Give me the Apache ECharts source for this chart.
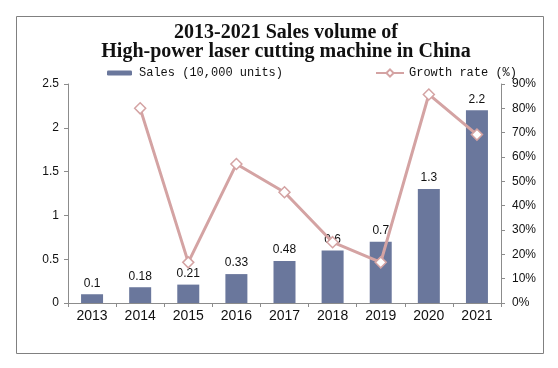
<!DOCTYPE html>
<html><head><meta charset="utf-8">
<script src="https://cdn.jsdelivr.net/npm/echarts@6/dist/echarts.min.js"></script>
<style>html,body{margin:0;padding:0;background:#fff}#c{width:558px;height:368px}</style>
</head><body><div id="c"></div>
<script>
const years = ['2013','2014','2015','2016','2017','2018','2019','2020','2021'];
const sales = [0.1, 0.18, 0.21, 0.33, 0.48, 0.6, 0.7, 1.3, 2.2];
const growth = [null, 80, 16.7, 57.1, 45.5, 25, 16.7, 85.7, 69.2];
const leftTicks = [0, 0.5, 1, 1.5, 2, 2.5];
const rightTicks = [0, 10, 20, 30, 40, 50, 60, 70, 80, 90];

const chart = echarts.init(document.getElementById('c'), null, {renderer: 'canvas'});
const axisCol = '#8c8c8c';
chart.setOption({
  animation: false,
  title: {
    text: '2013-2021 Sales volume of\nHigh-power laser cutting machine in China',
    left: 281, textAlign: 'center', top: 18,
    textStyle: {fontFamily: 'Liberation Serif', fontWeight: 'bold', fontSize: 20, lineHeight: 19, color: '#111'}
  },
  legend: [
    {data: ['Sales (10,000 units)'], left: 102, top: 62, itemWidth: 25, itemHeight: 5, itemGap: 0,
     textStyle: {fontFamily: 'Liberation Mono', fontSize: 12, color: '#111', padding: [0,0,0,2]}},
    {data: ['Growth rate (%)'], left: 370, top: 62, itemWidth: 28, itemHeight: 9, itemGap: 0,
     textStyle: {fontFamily: 'Liberation Mono', fontSize: 12, color: '#111', padding: [0,0,0,0]}}
  ],
  graphic: [{type: 'rect', shape: {x: 16.5, y: 16.5, width: 527, height: 337}, style: {fill: 'none', stroke: '#808080', lineWidth: 1}, silent: true}],
  grid: {left: 68, right: 57, top: 84, bottom: 65},
  xAxis: {
    type: 'category', data: years,
    axisLine: {lineStyle: {color: axisCol}},
    axisTick: {show: true, length: 4, lineStyle: {color: axisCol}},
    axisLabel: {fontFamily: 'Liberation Sans', fontSize: 14, color: '#111', margin: 6}
  },
  yAxis: [
    {type: 'value', min: 0, max: 2.5, interval: 0.5,
     axisLine: {show: true, lineStyle: {color: axisCol}},
     axisTick: {show: true, length: 4, lineStyle: {color: axisCol}},
     splitLine: {show: false},
     axisLabel: {fontFamily: 'Liberation Sans', fontSize: 12, color: '#111', margin: 9,
       formatter: v => leftTicks.includes(v) ? String(v) : ''}},
    {type: 'value', min: 0, max: 90, interval: 10, position: 'right',
     axisLine: {show: true, lineStyle: {color: axisCol}},
     axisTick: {show: true, length: 4, lineStyle: {color: axisCol}},
     splitLine: {show: false},
     axisLabel: {fontFamily: 'Liberation Sans', fontSize: 12, color: '#111', margin: 11,
       formatter: v => rightTicks.includes(v) ? v + '%' : ''}}
  ],
  series: [
    {name: 'Sales (10,000 units)', type: 'bar', data: sales, barWidth: 22,
     itemStyle: {color: '#6a779c'},
     label: {show: true, position: 'top', distance: 5, fontFamily: 'Liberation Sans', fontSize: 12, color: '#111'}},
    {name: 'Growth rate (%)', type: 'line', yAxisIndex: 1, data: growth,
     symbol: 'diamond', symbolSize: 11, showAllSymbol: true,
     lineStyle: {color: '#d4a3a3', width: 3},
     itemStyle: {color: '#ffffff', borderColor: '#d4a3a3', borderWidth: 1.5},
     z: 3}
  ]
});
</script></body></html>
